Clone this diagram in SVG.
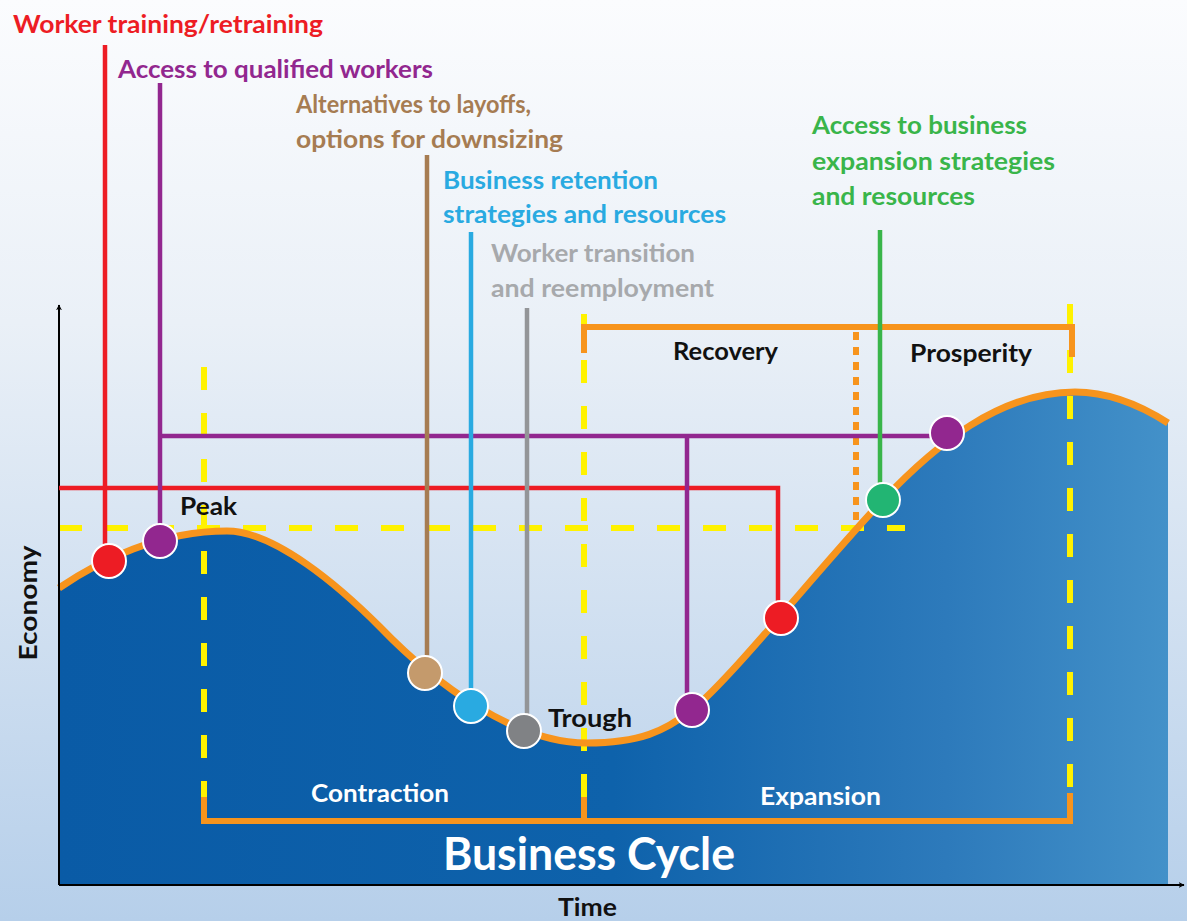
<svg xmlns="http://www.w3.org/2000/svg" width="1187" height="921" viewBox="0 0 1187 921">
<defs>
<linearGradient id="bg" x1="0" y1="0" x2="0" y2="1">
<stop offset="0" stop-color="#fbfcfe"/>
<stop offset="0.35" stop-color="#eaf0f7"/>
<stop offset="1" stop-color="#b6cfea"/>
</linearGradient>
<linearGradient id="area" x1="0" y1="0" x2="1" y2="0">
<stop offset="0" stop-color="#0a5ba6"/>
<stop offset="0.5" stop-color="#0e62ab"/>
<stop offset="0.8" stop-color="#2d7abb"/>
<stop offset="1" stop-color="#4391c9"/>
</linearGradient>
<marker id="arr" viewBox="0 0 10 10" refX="9" refY="5" markerWidth="6" markerHeight="6" orient="auto" markerUnits="userSpaceOnUse">
<path d="M0,0 L10,5 L0,10 L3,5 Z" fill="#000"/>
</marker>
<style>
text{font-family:Lato,"Open Sans","Liberation Sans",sans-serif;font-weight:bold}
.lbl{font-size:25px}
.blk{fill:#111;font-size:24px}
.wht{fill:#fff;font-size:24px}
.ydash{stroke:#fff200;stroke-width:6;fill:none;stroke-dasharray:23 23}
.ob{stroke:#f7941d;stroke-width:6;fill:none}
.conn{stroke-width:4.5;fill:none}
.dot{stroke:#fff;stroke-width:2}
</style>
</defs>
<rect width="1187" height="921" fill="url(#bg)"/>
<path id="area-fill" d="M59,588 C100,560 160,531 227,531 C275,531 340,587 380,627 C435,684 515,743 587,743 C640,743 665,731 692,710 C732,678 823,563 883,500 C935,445 1000,392 1075,392 C1110,392 1140,405 1168,423 L1168,885 L59,885 Z" fill="url(#area)"/>
<g id="guides">
<line class="ydash" x1="59" y1="528" x2="905" y2="528" stroke-dasharray="20 22"/>
<line class="ydash" x1="204" y1="367" x2="204" y2="800"/>
<line class="ydash" x1="584" y1="314" x2="584" y2="800"/>
<line class="ydash" x1="1070" y1="304" x2="1070" y2="800"/>
<line x1="856" y1="332" x2="856" y2="527" stroke="#f7941d" stroke-width="6" stroke-dasharray="8 7"/>
</g>
<path id="curve" d="M59,588 C100,560 160,531 227,531 C275,531 340,587 380,627 C435,684 515,743 587,743 C640,743 665,731 692,710 C732,678 823,563 883,500 C935,445 1000,392 1075,392 C1110,392 1140,405 1168,423" stroke="#f7941d" stroke-width="7" fill="none"/>
<g id="brackets">
<path class="ob" d="M204,797 L204,821 L1070,821 L1070,793"/>
<line class="ob" x1="584" y1="797" x2="584" y2="821"/>
<path class="ob" d="M584,353 L584,327 L1072,327 L1072,357"/>
</g>
<g id="axes" stroke="#000" stroke-width="2" fill="none">
<line x1="59" y1="885" x2="59" y2="305" marker-end="url(#arr)"/>
<line x1="59" y1="885" x2="1184" y2="885" marker-end="url(#arr)"/>
</g>
<g id="connectors">
<path class="conn" stroke="#ed1c24" d="M105,45 L105,552"/>
<path class="conn" stroke="#ed1c24" d="M59,488 L778,488 L778,610"/>
<path class="conn" stroke="#92278f" d="M160,83 L160,533"/>
<path class="conn" stroke="#92278f" d="M160,436 L940,436"/>
<path class="conn" stroke="#92278f" d="M687,436 L687,700"/>
<path class="conn" stroke="#a67c52" d="M427,155 L427,665"/>
<path class="conn" stroke="#29aae1" d="M471,232 L471,698"/>
<path class="conn" stroke="#939598" d="M527,308 L527,722"/>
<path class="conn" stroke="#39b54a" d="M880,230 L880,490"/>
</g>
<g id="n-red1"><circle class="dot" cx="109" cy="561" r="17" fill="#ed1c24"/></g>
<g id="n-purple1"><circle class="dot" cx="160" cy="541" r="17" fill="#92278f"/></g>
<g id="n-brown"><circle class="dot" cx="425" cy="673" r="17" fill="#c49a6c"/></g>
<g id="n-blue"><circle class="dot" cx="471" cy="706" r="17" fill="#29aae1"/></g>
<g id="n-gray"><circle class="dot" cx="524" cy="731" r="17" fill="#808285"/></g>
<g id="n-purple2"><circle class="dot" cx="692" cy="710" r="17" fill="#92278f"/></g>
<g id="n-red2"><circle class="dot" cx="781" cy="618" r="17" fill="#ed1c24"/></g>
<g id="n-green"><circle class="dot" cx="883" cy="500" r="17" fill="#22b573"/></g>
<g id="n-purple3"><circle class="dot" cx="947" cy="433" r="17" fill="#92278f"/></g>
<g id="labels">
<text class="lbl" x="13" y="33" fill="#ed1c24" textLength="310" lengthAdjust="spacingAndGlyphs">Worker training/retraining</text>
<text class="lbl" x="118" y="78" fill="#92278f" textLength="315" lengthAdjust="spacingAndGlyphs">Access to qualified workers</text>
<text class="lbl" x="296" y="113" fill="#a67c52" textLength="235" lengthAdjust="spacingAndGlyphs">Alternatives to layoffs,</text>
<text class="lbl" x="296" y="148" fill="#a67c52" textLength="267" lengthAdjust="spacingAndGlyphs">options for downsizing</text>
<text class="lbl" x="443" y="189" fill="#29aae1" textLength="215" lengthAdjust="spacingAndGlyphs">Business retention</text>
<text class="lbl" x="443" y="223" fill="#29aae1" textLength="283" lengthAdjust="spacingAndGlyphs">strategies and resources</text>
<text class="lbl" x="491" y="262" fill="#a7a9ac" textLength="204" lengthAdjust="spacingAndGlyphs">Worker transition</text>
<text class="lbl" x="491" y="297" fill="#a7a9ac" textLength="223" lengthAdjust="spacingAndGlyphs">and reemployment</text>
<text class="lbl" x="812" y="134" fill="#39b54a" textLength="215" lengthAdjust="spacingAndGlyphs">Access to business</text>
<text class="lbl" x="812" y="170" fill="#39b54a" textLength="243" lengthAdjust="spacingAndGlyphs">expansion strategies</text>
<text class="lbl" x="812" y="205" fill="#39b54a" textLength="163" lengthAdjust="spacingAndGlyphs">and resources</text>
<text class="blk" x="673" y="360" textLength="105" lengthAdjust="spacingAndGlyphs">Recovery</text>
<text class="blk" x="910" y="362" textLength="122" lengthAdjust="spacingAndGlyphs">Prosperity</text>
<text class="blk" x="180" y="515" textLength="57" lengthAdjust="spacingAndGlyphs">Peak</text>
<text class="blk" x="548" y="727" textLength="84" lengthAdjust="spacingAndGlyphs">Trough</text>
<text class="wht" x="311" y="802" textLength="138" lengthAdjust="spacingAndGlyphs">Contraction</text>
<text class="wht" x="760" y="805" textLength="121" lengthAdjust="spacingAndGlyphs">Expansion</text>
<text x="443" y="870" fill="#fff" font-size="46" textLength="292" lengthAdjust="spacingAndGlyphs">Business Cycle</text>
<text class="blk" x="558" y="916" textLength="59" lengthAdjust="spacingAndGlyphs">Time</text>
<text class="blk" transform="translate(37,603) rotate(-90)" text-anchor="middle" textLength="115" lengthAdjust="spacingAndGlyphs">Economy</text>
</g>
</svg>
